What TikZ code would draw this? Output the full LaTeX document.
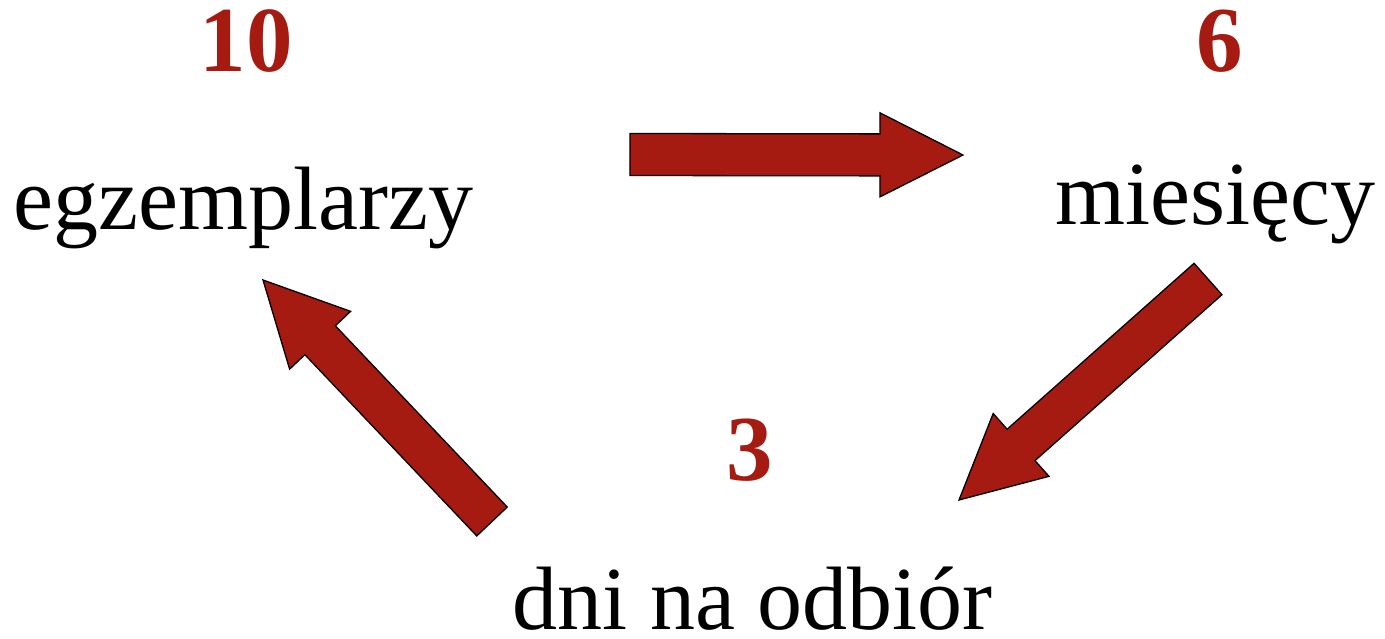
\documentclass[tikz,border=0pt]{standalone}
\usepackage{fontspec}
\setmainfont{Liberation Serif}
\usetikzlibrary{calc}
\definecolor{brick}{RGB}{165,26,17}
\tikzset{
  word/.style={anchor=base, inner sep=0pt, font=\fontsize{90}{90}\selectfont},
  count/.style={anchor=base, inner sep=0pt, text=brick, font=\fontsize{93}{93}\selectfont\bfseries},
  blockarrow/.style={fill=brick, draw=black, line width=1.3pt, line join=miter}
}
% block arrow from tail centre #1 to tip #2
\newcommand\blockarrowdraw[2]{%
  \coordinate (neck) at ($(#2)!83pt!(#1)$);
  \draw[blockarrow]
    ($(#1)!21pt!90:(#2)$) -- ($(neck)!21pt!90:(#2)$) -- ($(neck)!42pt!90:(#2)$)
    -- (#2)
    -- ($(neck)!42pt!-90:(#2)$) -- ($(neck)!21pt!-90:(#2)$) -- ($(#1)!21pt!-90:(#2)$)
    -- cycle;}
\begin{document}
\begin{tikzpicture}[x=1pt,y=-1pt]
  \useasboundingbox (0,0) rectangle (1385,638);
  % labels
  \node[count] (n10) at (246,71) {10};
  \node[word] (egz) at (243.5,229) {egzemplarzy};
  \node[count] (n6) at (1220,71) {6};
  \node[word] (mies) at (1215,224) {miesięcy};
  \node[count] (n3) at (750,480) {3};
  \node[word] (dni) at (752.5,629) {dni na odbiór};
  % arrow ends
  \coordinate (a1tail) at (630,154.5);
  \coordinate (a1tip) at (963,155);
  \coordinate (a2tail) at (1208,279);
  \coordinate (a2tip) at (959,500);
  \coordinate (a3tail) at (492,521.5);
  \coordinate (a3tip) at (263,280);
  \blockarrowdraw{a1tail}{a1tip}
  \blockarrowdraw{a2tail}{a2tip}
  \blockarrowdraw{a3tail}{a3tip}
\end{tikzpicture}
\end{document}
